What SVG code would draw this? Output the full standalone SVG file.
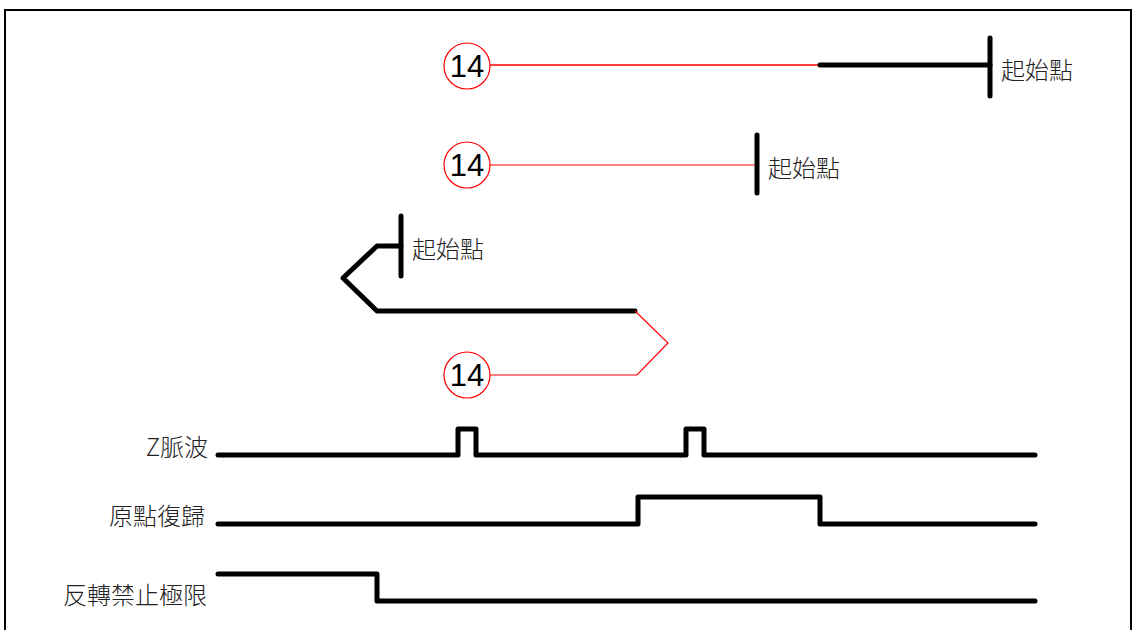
<svg xmlns="http://www.w3.org/2000/svg" width="1132" height="630" viewBox="0 0 1132 630">
<style>
.thick{fill:none;stroke:#000;stroke-width:5;stroke-linecap:round;stroke-linejoin:round}
.red{fill:none;stroke:#ff0000;stroke-width:1.2}
.redb{fill:none;stroke:#ff0000;stroke-width:1.6}
.circ{fill:#fff;stroke:#ff0000;stroke-width:1.2}
.num{font-family:"Liberation Sans",Arial,sans-serif;font-size:31px;fill:#000;text-anchor:middle}
.lbl{font-family:"Noto Sans CJK TC","Noto Sans CJK SC",sans-serif;font-size:24px;font-weight:300;fill:#222}
.rl{text-anchor:end}
</style>
<rect width="1132" height="630" fill="#fff"/>
<path d="M5,630 V10 H1131 V630" fill="none" stroke="#000" stroke-width="2"/>
<g id="connectors">
<line class="redb" x1="490" y1="65" x2="820" y2="65"/>
<path class="thick" d="M820,65 H990"/>
<line class="red" x1="490" y1="165" x2="757" y2="165"/>
<path class="thick" d="M401,246 H377 L343,278 L377,311 H635"/>
<path class="red" d="M635,311 L668,343 L637,375 H490"/>
</g>
<g id="start1"><path class="thick" d="M990,38 V96"/><text class="lbl" x="1001" y="79">起始點</text></g>
<g id="start2"><path class="thick" d="M757,135 V193"/><text class="lbl" x="768" y="177">起始點</text></g>
<g id="start3"><path class="thick" d="M401,216 V276"/><text class="lbl" x="412" y="258">起始點</text></g>
<g id="c1"><circle class="circ" cx="467" cy="66" r="23"/><text class="num" x="467" y="77">14</text></g>
<g id="c2"><circle class="circ" cx="467" cy="165" r="23"/><text class="num" x="467" y="176">14</text></g>
<g id="c3"><circle class="circ" cx="467" cy="375" r="23"/><text class="num" x="467" y="386">14</text></g>
<g id="zpulse"><text class="lbl rl" x="208" y="456">Z脈波</text><path class="thick" d="M218,455 H458 V429 H476 V455 H686 V429 H704 V455 H1035"/></g>
<g id="home"><text class="lbl rl" x="205" y="525">原點復歸</text><path class="thick" d="M218,524 H638 V497 H820 V524 H1035"/></g>
<g id="limit"><text class="lbl rl" x="207" y="604">反轉禁止極限</text><path class="thick" d="M218,574 H377 V601 H1035"/></g>
</svg>
